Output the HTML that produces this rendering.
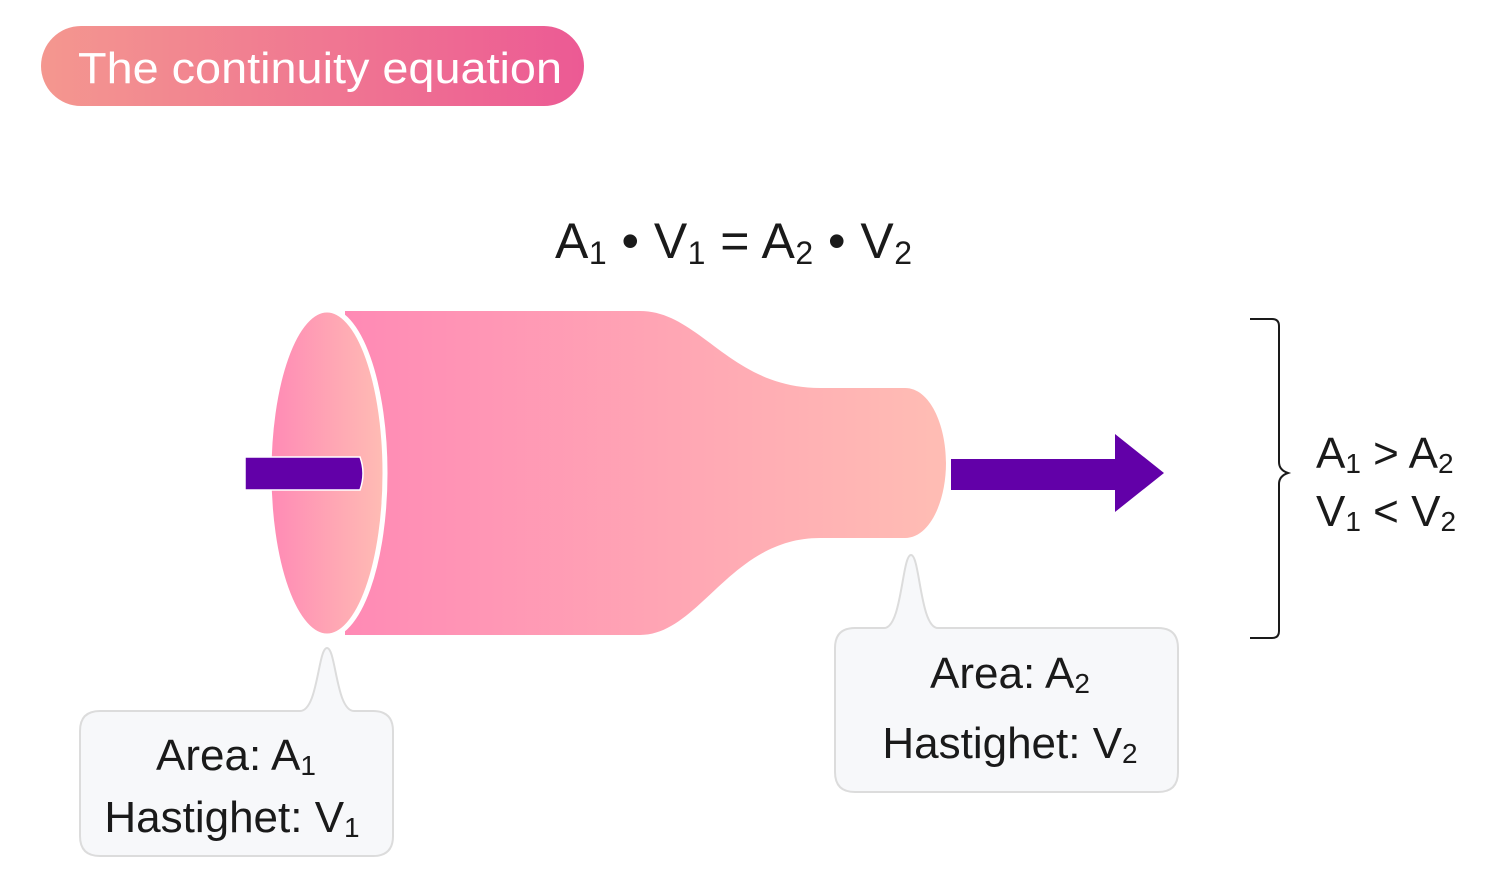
<!DOCTYPE html>
<html><head><meta charset="utf-8"><style>
html,body{margin:0;padding:0;background:#fff;}
svg{display:block;font-family:"Liberation Sans",sans-serif;}
</style></head><body>
<svg width="1500" height="879" viewBox="0 0 1500 879" xmlns="http://www.w3.org/2000/svg">
<defs>
<linearGradient id="tg" x1="345" y1="0" x2="945" y2="0" gradientUnits="userSpaceOnUse">
<stop offset="0" stop-color="#ff8ab5"/><stop offset="1" stop-color="#ffbdb4"/></linearGradient>
<linearGradient id="eg" x1="270" y1="0" x2="385" y2="0" gradientUnits="userSpaceOnUse">
<stop offset="0" stop-color="#ff8ab5"/><stop offset="1" stop-color="#ffbdb4"/></linearGradient>
<linearGradient id="pg" x1="41" y1="0" x2="584" y2="0" gradientUnits="userSpaceOnUse">
<stop offset="0" stop-color="#f4978f"/><stop offset="1" stop-color="#ec5a94"/></linearGradient>
</defs>
<rect x="41" y="26" width="543" height="80" rx="40" fill="url(#pg)"/>
<text x="78" y="83" font-size="44" fill="#fff" textLength="484" lengthAdjust="spacingAndGlyphs">The continuity equation</text>

<text x="555" y="258" font-size="50" fill="#1a1a1a" textLength="357" lengthAdjust="spacing">A<tspan font-size="32" dy="6">1</tspan><tspan dy="-6"> • V</tspan><tspan font-size="32" dy="6">1</tspan><tspan dy="-6"> = A</tspan><tspan font-size="32" dy="6">2</tspan><tspan dy="-6"> • V</tspan><tspan font-size="32" dy="6">2</tspan></text>

<path d="M345 311 L640 311 C700 311 730 388 820 388 L905 388 C930 388 946 425 946 463 C946 501 930 538 905 538 L820 538 C730 538 700 635 640 635 L345 635 Z" fill="url(#tg)"/>
<ellipse cx="327" cy="473" rx="58" ry="163" fill="url(#eg)" stroke="#fff" stroke-width="5"/>
<path d="M245 457 L360 457 Q366 473 360 490 L245 490 Z" fill="#6200a8" stroke="#fff" stroke-width="1.5"/>
<path d="M951 459 L1115 459 L1115 434 L1164 473 L1115 512 L1115 490 L951 490 Z" fill="#6200a8"/>

<path d="M1250 319 L1272 319 Q1279 319 1279 326 L1279 462 Q1279 470 1288 473 Q1279 476 1279 484 L1279 631 Q1279 638 1272 638 L1250 638" fill="none" stroke="#1a1a1a" stroke-width="2"/>
<text x="1316" y="468" font-size="44" fill="#1a1a1a">A<tspan font-size="28" dy="5">1</tspan><tspan dy="-5"> &gt; A</tspan><tspan font-size="28" dy="5">2</tspan></text>
<text x="1316" y="526" font-size="44" fill="#1a1a1a">V<tspan font-size="28" dy="5">1</tspan><tspan dy="-5"> &lt; V</tspan><tspan font-size="28" dy="5">2</tspan></text>

<path d="M100 711 L300 711 C318 711 318 648 327 648 C336 648 336 711 354 711 L373 711 Q393 711 393 731 L393 836 Q393 856 373 856 L100 856 Q80 856 80 836 L80 731 Q80 711 100 711 Z" fill="#f7f8fa" stroke="#dcdcdc" stroke-width="2"/>
<text x="236" y="770" font-size="44" fill="#1a1a1a" text-anchor="middle">Area: A<tspan font-size="28" dy="5">1</tspan></text>
<text x="232" y="832" font-size="44" fill="#1a1a1a" text-anchor="middle">Hastighet: V<tspan font-size="28" dy="5">1</tspan></text>

<path d="M855 628 L884 628 C902 628 902 555 911 555 C920 555 920 628 938 628 L1158 628 Q1178 628 1178 648 L1178 772 Q1178 792 1158 792 L855 792 Q835 792 835 772 L835 648 Q835 628 855 628 Z" fill="#f7f8fa" stroke="#dcdcdc" stroke-width="2"/>
<text x="1010" y="688" font-size="44" fill="#1a1a1a" text-anchor="middle">Area: A<tspan font-size="28" dy="5">2</tspan></text>
<text x="1010" y="758" font-size="44" fill="#1a1a1a" text-anchor="middle">Hastighet: V<tspan font-size="28" dy="5">2</tspan></text>
</svg>
</body></html>
